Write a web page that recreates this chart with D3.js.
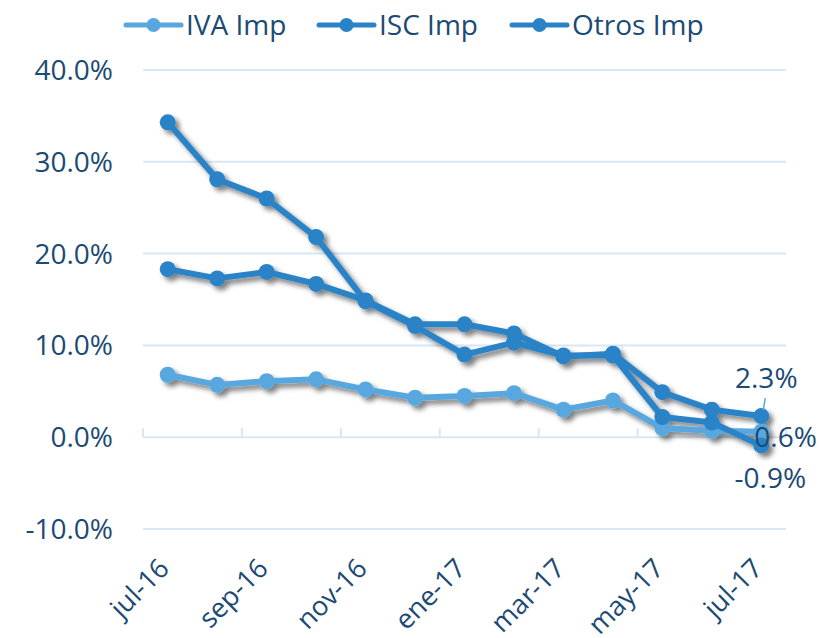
<!DOCTYPE html>
<html>
<head>
<meta charset="utf-8">
<script src="https://cdn.jsdelivr.net/npm/d3@7"></script>
<style>
  body { margin: 0; background: #fff; }
  text { font-family: "Open Sans", sans-serif; fill: #1b4a74; }
</style>
</head>
<body>
<div id="chart"></div>
<script>
// data
var months = ["jul-16", "ago-16", "sep-16", "oct-16", "nov-16", "dic-16", "ene-17", "feb-17", "mar-17", "abr-17", "may-17", "jun-17", "jul-17"]
var ivaImp = [6.8, 5.7, 6.1, 6.3, 5.2, 4.3, 4.5, 4.8, 3.0, 4.0, 1.0, 0.7, 0.6]
var iscImp = [18.3, 17.3, 18.0, 16.7, 14.9, 12.3, 12.3, 11.3, 8.8, 9.1, 4.9, 3.0, 2.3]
var otrosImp = [34.3, 28.1, 26.0, 21.8, 14.8, 12.1, 9.0, 10.3, 8.9, 8.9, 2.2, 1.6, -0.9]
var yTicks = [-10, 0, 10, 20, 30, 40]
var shownMonths = ["jul-16", "sep-16", "nov-16", "ene-17", "mar-17", "may-17", "jul-17"]

var series = [
  { name: "IVA Imp", values: ivaImp, color: "#58a8df" },
  { name: "ISC Imp", values: iscImp, color: "#2a83c6" },
  { name: "Otros Imp", values: otrosImp, color: "#2a83c6" }
]

var width = 821
var height = 638

var svg = d3.select("#chart")
  .append("svg")
  .attr("width", width)
  .attr("height", height)

var defs = svg.append("defs")
defs.append("filter")
  .attr("id", "shadow")
  .attr("x", "-10%").attr("y", "-10%")
  .attr("width", "130%").attr("height", "130%")
  .append("feDropShadow")
  .attr("dx", 4).attr("dy", 4)
  .attr("stdDeviation", 2.4)
  .attr("flood-color", "#000")
  .attr("flood-opacity", 0.5)

var x = d3.scaleBand()
  .domain(months)
  .range([143, 786])

var y = d3.scaleLinear()
  .domain([-10, 40])
  .range([529, 70])

var cx = function (m) { return x(m) + x.bandwidth() / 2 }

// gridlines
svg.append("g")
  .selectAll("line")
  .data(yTicks.filter(function (t) { return t != 0 }))
  .enter()
  .append("line")
  .attr("x1", 143).attr("x2", 786)
  .attr("y1", function (d) { return y(d) })
  .attr("y2", function (d) { return y(d) })
  .attr("stroke", "#d6e7f5")
  .attr("stroke-width", 2)

// zero axis with ticks every two months
var axis = svg.append("g")
axis.append("line")
  .attr("x1", 143).attr("x2", 786)
  .attr("y1", y(0)).attr("y2", y(0))
  .attr("stroke", "#d6e7f5")
  .attr("stroke-width", 2)
axis.selectAll(".tick")
  .data(months.filter(function (m, i) { return i % 2 == 0 }).concat(["end"]))
  .enter()
  .append("line")
  .attr("x1", function (d) { return d == "end" ? 786 : x(d) })
  .attr("x2", function (d) { return d == "end" ? 786 : x(d) })
  .attr("y1", y(0) - 9).attr("y2", y(0))
  .attr("stroke", "#d6e7f5")
  .attr("stroke-width", 2)

// y labels
svg.append("g")
  .selectAll("text")
  .data(yTicks)
  .enter()
  .append("text")
  .attr("x", 113)
  .attr("y", function (d) { return y(d) + 10 })
  .attr("text-anchor", "end")
  .style("font-size", "28px")
  .text(function (d) { return d.toFixed(1) + "%" })

// x labels
svg.append("g")
  .selectAll("text")
  .data(shownMonths)
  .enter()
  .append("text")
  .attr("text-anchor", "end")
  .attr("transform", function (d) { return "translate(" + (cx(d) + 3) + ",570) rotate(-45)" })
  .style("font-size", "27px")
  .text(function (d) { return d })

// lines
var line = d3.line()
  .x(function (d, i) { return cx(months[i]) })
  .y(function (d) { return y(d) })

var lines = svg.append("g").attr("filter", "url(#shadow)")
series.forEach(function (s) {
  var g = lines.append("g")
  g.append("path")
    .attr("d", line(s.values))
    .attr("fill", "none")
    .attr("stroke", s.color)
    .attr("stroke-width", 6)
    .attr("stroke-linejoin", "round")
  g.selectAll("circle")
    .data(s.values)
    .enter()
    .append("circle")
    .attr("cx", function (d, i) { return cx(months[i]) })
    .attr("cy", function (d) { return y(d) })
    .attr("r", 8)
    .attr("fill", s.color)
})

// end labels
var last = months[months.length - 1]
svg.append("line")
  .attr("x1", cx(last) + 4).attr("y1", y(iscImp[12]) - 18)
  .attr("x2", cx(last) + 2).attr("y2", y(iscImp[12]) - 6)
  .attr("stroke", "#58a8df")
  .attr("stroke-width", 1.5)
svg.append("text")
  .attr("x", cx(last) + 5).attr("y", y(iscImp[12]) - 28)
  .attr("text-anchor", "middle")
  .style("font-size", "28px")
  .text(iscImp[12].toFixed(1) + "%")
svg.append("text")
  .attr("x", cx(last) - 7).attr("y", y(ivaImp[12]) + 15)
  .attr("text-anchor", "start")
  .style("font-size", "28px")
  .text(ivaImp[12].toFixed(1) + "%")
svg.append("text")
  .attr("x", cx(last) + 9).attr("y", y(otrosImp[12]) + 43)
  .attr("text-anchor", "middle")
  .style("font-size", "28px")
  .text(otrosImp[12].toFixed(1) + "%")

// legend
var legend = svg.append("g")
  .selectAll("g")
  .data(series)
  .enter()
  .append("g")
  .attr("transform", function (d, i) { return "translate(" + (126 + i * 193) + ",25)" })
legend.append("line")
  .attr("x1", 0).attr("x2", 55)
  .attr("stroke", function (d) { return d.color })
  .attr("stroke-width", 5)
  .attr("stroke-linecap", "round")
legend.append("circle")
  .attr("cx", 27.5)
  .attr("r", 7)
  .attr("fill", function (d) { return d.color })
legend.append("text")
  .attr("x", 60)
  .attr("y", 10)
  .style("font-size", "28px")
  .text(function (d) { return d.name })
</script>
</body>
</html>
